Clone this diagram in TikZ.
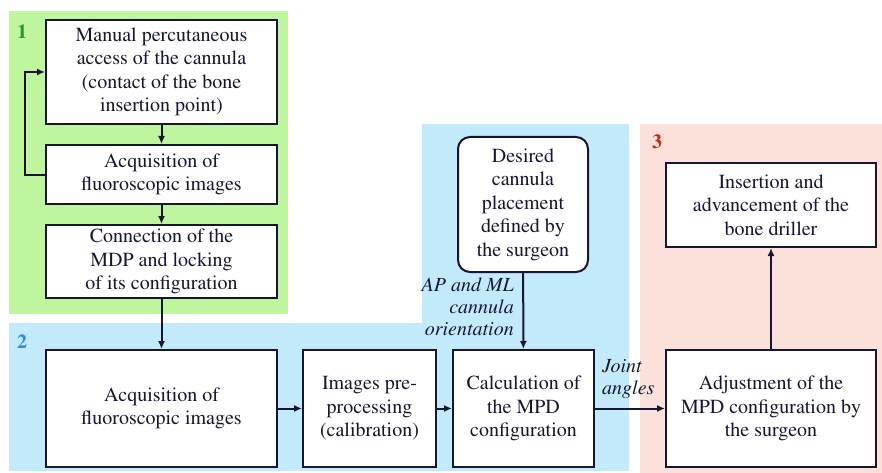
\documentclass[tikz,border=0pt]{standalone}
\usepackage[T1]{fontenc}
\usepackage{times}
\usepackage{color}
\usepackage{tikz}
\usetikzlibrary{shapes,arrows,arrows.meta,calc}
\definecolor{ink}{RGB}{22,22,52}
\definecolor{stepone}{RGB}{192,245,160}
\definecolor{steptwo}{RGB}{194,234,250}
\definecolor{stepthree}{RGB}{252,224,218}
\definecolor{tagone}{RGB}{46,150,30}
\definecolor{tagtwo}{RGB}{50,140,230}
\definecolor{tagthree}{RGB}{200,40,20}
\tikzstyle{line} = [draw=ink, -{Latex[length=8pt,width=7pt]}, line width=2pt]
\tikzstyle{block} = [draw=ink, fill=white, rectangle, line width=2pt, align=center, text=ink, inner sep=0pt]
\tikzstyle{cloud} = [draw=ink, fill=white, rectangle, line width=2pt, align=center, text=ink, rounded corners=12pt, inner sep=0pt]
\tikzstyle{tag} = [font=\fontsize{20}{24}\selectfont\bfseries]
\tikzstyle{note} = [text=ink, font=\fontsize{20}{22}\selectfont\itshape, inner sep=0pt]

\begin{document}
\begin{tikzpicture}[x=1pt, y=-1pt, font=\fontsize{20}{23.5}\selectfont]
        \useasboundingbox (0,0) rectangle (882,473);
        % coloured stages
        \fill[stepone] (9,11) rectangle (288,314);
        \fill[steptwo] (9,323) rectangle (629,471);
        \fill[steptwo] (422,124) rectangle (629,323);
        \fill[stepthree] (640,124) rectangle (882,473);
        \node[tag, text=tagone] (one) at (22,32) {1};
        \node[tag, text=tagtwo] (two) at (22,342) {2};
        \node[tag, text=tagthree] (three) at (657,142) {3};
        % stage 1
        \node[block, minimum width=231pt, minimum height=104pt] (access) at (161.5,72) {Manual percutaneous\\access of the cannula\\(contact of the bone\\insertion point)};
        \node[block, minimum width=231pt, minimum height=59pt] (acqone) at (161.5,174.5) {Acquisition of\\fluoroscopic images};
        \node[block, minimum width=231pt, minimum height=73pt] (connect) at (161.5,261.5) {Connection of the\\MDP and locking\\of its configuration};
        % stage 2
        \node[block, minimum width=231pt, minimum height=117pt] (acqtwo) at (161.5,408.5) {Acquisition of\\fluoroscopic images};
        \node[block, minimum width=133pt, minimum height=117pt] (preproc) at (369.5,408.5) {Images pre-\\processing\\(calibration)};
        \node[block, minimum width=141pt, minimum height=117pt] (calc) at (523.5,408.5) {Calculation of\\the MPD\\configuration};
        \node[cloud, minimum width=130pt, minimum height=135pt] (desired) at (523,204.5) {Desired\\cannula\\placement\\defined by\\the surgeon};
        % stage 3
        \node[block, minimum width=210pt, minimum height=117pt] (adjust) at (771,408.5) {Adjustment of the\\MPD configuration by\\the surgeon};
        \node[block, minimum width=210pt, minimum height=84pt] (insert) at (771,205) {Insertion and\\advancement of the\\bone driller};
        % labels
        \node[note, anchor=east, align=right] (orient) at (514,307) {AP and ML\\cannula\\orientation};
        \node[note, anchor=west, align=left] (joint) at (602,379) {Joint\\angles};
        % connectors
        \path[line] (access) -- (acqone);
        \path[line] (acqone) -- (connect);
        \path[line] (acqone.west) -- ++(-20,0) |- (access.west);
        \path[line] (connect) -- (acqtwo);
        \path[line] (acqtwo) -- (preproc);
        \path[line] (preproc) -- (calc);
        \path[line] (desired) -- (calc);
        \path[line] (calc) -- (adjust);
        \path[line] (adjust) -- (insert);
    \end{tikzpicture}
\end{document}
